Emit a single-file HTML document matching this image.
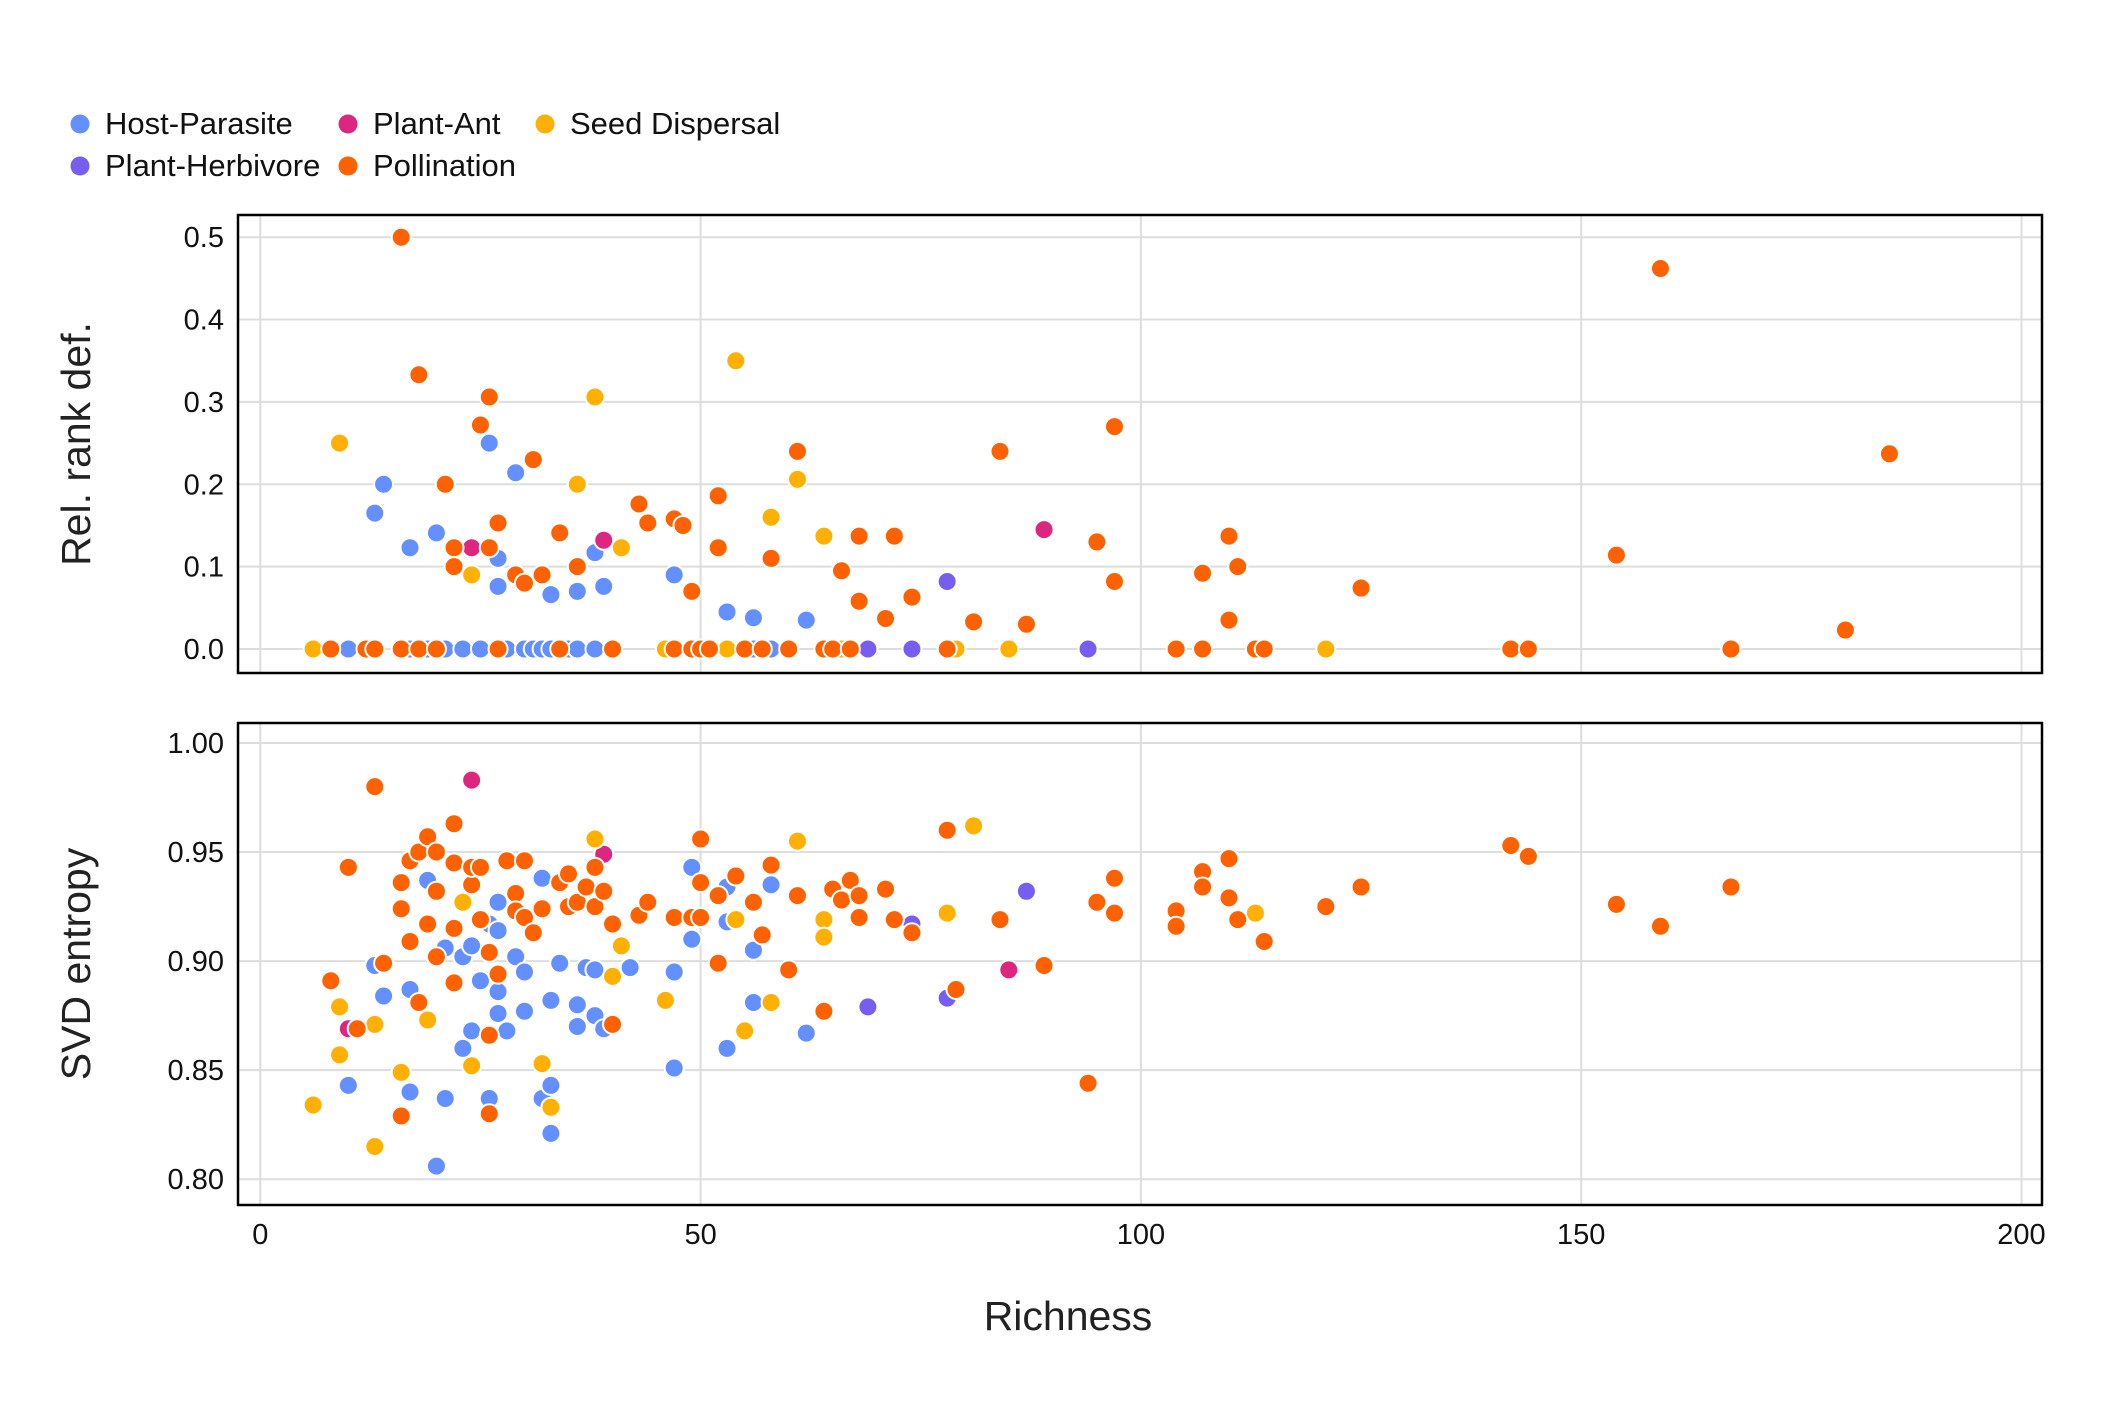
<!DOCTYPE html>
<html><head><meta charset="utf-8"><style>
body{margin:0;background:#fff}
svg{display:block;font-family:"Liberation Sans",sans-serif}
</style></head><body>
<svg id="c" width="2126" height="1417" viewBox="0 0 2126 1417">
<g id="legend"></g>
<g id="grid"></g><g id="pts"></g><g id="axes"></g>
</svg>
<script>
const groupNames=["Host-Parasite","Plant-Ant","Seed Dispersal","Plant-Herbivore","Pollination"];
const groupCodes=["H","A","S","V","P"];
const colors={H:"#648fff",A:"#dc267f",S:"#ffb000",V:"#785ef0",P:"#fe6100"};
const xTicks=[0,50,100,150,200];
const topTicks=[0,0.1,0.2,0.3,0.4,0.5];
const topTickLabels=["0.0","0.1","0.2","0.3","0.4","0.5"];
const botTicks=[0.80,0.85,0.90,0.95,1.00];
const botTickLabels=["0.80","0.85","0.90","0.95","1.00"];
// top panel: relative rank deficiency
const topX=[16,18,9,13,14,17,20,21,22,22,24,24,25,26,26,26,27,27,27,29,29,30,31,32,33,34,36,36,36,38,38,39,39,41,43,44,47,47,48,49,52,52,53,54,58,58,56,61,61,62,64,66,68,68,71,72,74,78,81,84,87,89,95,97,97,107,110,110,111,125,154,159,180,185,
6,8,10,12,13,16,18,13,17,19,21,23,25,27,28,30,31,32,33,35,36,38,20,27,34,40,46,47,47,49,49,50,51,53,56,58,53,55,57,60,64,65,67,66,69,74,78,79,85,94,104,107,113,114,121,142,144,167];
const topY=[.5,.333,.25,.165,.2,.123,.141,.2,.123,.1,.123,.09,.272,.306,.25,.123,.153,.11,.076,.214,.09,.08,.23,.09,.066,.141,.2,.1,.07,.306,.117,.132,.076,.123,.176,.153,.158,.09,.15,.07,.186,.123,.045,.35,.16,.11,.038,.24,.206,.035,.137,.095,.137,.058,.037,.137,.063,.082,.033,.24,.03,.145,.13,.27,.082,.092,.137,.035,.1,.074,.114,.462,.023,.237,
0,0,0,0,0,0,0,0,0,0,0,0,0,0,0,0,0,0,0,0,0,0,0,0,0,0,0,0,0,0,0,0,0,0,0,0,0,0,0,0,0,0,0,0,0,0,0,0,0,0,0,0,0,0,0,0,0,0];
const topG="PPSHHHHPPPASPPHPPHHHPPPPHPSPHSHAHSPPPHPPPPHSSPHPSHSPPPPPPVPPPAPPPPPPPPPPPP"+"SPHPPPPHHHHHHHHHHHHHHHPPPPSPHHPPPHHHSPPPPPPSVVPSSVPPPPSPPP";
// bottom panel: SVD entropy
const botX=[6,8,9,9,10,10,10,11,13,13,13,13,14,14,16,16,16,16,17,17,17,17,19,18,18,19,19,19,20,20,20,20,21,21,22,22,22,22,23,23,23,24,24,24,24,24,24,25,25,25,26,26,26,26,26,27,27,27,27,27,28,28,29,29,29,30,30,30,30,31,32,32,32,32,33,33,33,33,34,34,35,35,36,36,36,37,37,38,38,38,38,38,39,39,39,40,40,40,41,42,43,44,46,47,47,47,49,49,49,50,50,50,52,52,53,53,53,54,54,55,56,56,56,57,58,58,58,60,61,61,62,64,64,64,65,66,67,68,68,69,71,72,74,74,78,78,78,79,81,84,85,87,89,94,95,97,97,104,104,107,107,110,110,111,113,114,121,125,142,144,154,159,167,180,185];
const botY=[.834,.891,.879,.857,.869,.843,.943,.869,.871,.815,.898,.98,.884,.899,.829,.849,.924,.936,.84,.887,.909,.946,.873,.95,.881,.937,.917,.957,.806,.95,.902,.932,.837,.906,.963,.945,.915,.89,.86,.902,.927,.983,.868,.907,.852,.935,.943,.943,.891,.919,.837,.83,.866,.917,.904,.876,.886,.927,.914,.894,.946,.868,.931,.902,.923,.946,.895,.877,.92,.913,.938,.853,.837,.924,.882,.843,.821,.833,.936,.899,.94,.925,.88,.87,.927,.934,.897,.956,.943,.925,.896,.875,.949,.932,.869,.871,.917,.893,.907,.897,.921,.927,.882,.92,.895,.851,.92,.943,.91,.956,.936,.92,.899,.93,.934,.918,.86,.939,.919,.868,.927,.905,.881,.912,.881,.935,.944,.896,.93,.955,.867,.877,.919,.911,.933,.928,.937,.92,.93,.879,.933,.919,.917,.913,.96,.883,.922,.887,.962,.919,.896,.932,.898,.844,.927,.938,.922,.923,.916,.941,.934,.947,.929,.919,.922,.909,.925,.934,.953,.948,.926,.916,.934,.944,.933];
const botG="SPSSAHPPSSHPHPPSPPHHPPSPPHPPHPPPHHPPPPHHSAHHSPPPHPHPPHPHHHHPPHPHPPHHPPHSHPHHHSPHPPHHPPHSPPHHAPHPPSSHPPSPHHPHHPPPPPHHHPSSPHHPSHPPPSHPSSPPPPPVPPVPPVSPSPAVPPPPPPPPPPPPSPPPPPPPP";

const NS="http://www.w3.org/2000/svg";
function mk(tag,attrs,parent){const e=document.createElementNS(NS,tag);for(const k in attrs)e.setAttribute(k,attrs[k]);parent.appendChild(e);return e;}
const L=238,R=2042;
const xS=v=>260.3+v*8.806;
const panels=[
 {top:215,bot:673,y:v=>649-v*823.6,ticks:topTicks,labels:topTickLabels,X:topX,Y:topY,G:topG,title:"Rel. rank def.",name:"rank-deficiency"},
 {top:723,bot:1205,y:v=>743+(1-v)*2181,ticks:botTicks,labels:botTickLabels,X:botX,Y:botY,G:botG,title:"SVD entropy",name:"svd-entropy"}];
const grid=document.getElementById('grid'),pts=document.getElementById('pts'),axes=document.getElementById('axes');
panels.forEach(p=>{
  xTicks.forEach(t=>{const l=mk('line',{x1:xS(t),x2:xS(t),y1:p.top,y2:p.bot,stroke:'#dddddd','stroke-width':2},grid);
    
    });
  p.ticks.forEach((t,i)=>{const l=mk('line',{x1:L,x2:R,y1:p.y(t),y2:p.y(t),stroke:'#dddddd','stroke-width':2},grid);
    
    
    const tx=mk('text',{x:224,y:p.y(t)+10,'text-anchor':'end','font-size':29,fill:'#111'},axes);tx.textContent=p.labels[i];
    
    });
  const order=["H","A","V","S","P"];
  order.forEach(g=>{for(let i=0;i<p.X.length;i++){if(p.G[i]!==g)continue;
    const c=mk('circle',{cx:xS(p.X[i]),cy:p.y(p.Y[i]),r:9.5,fill:colors[g],stroke:'#fff','stroke-width':2},pts);
    
    }});
  const b=mk('rect',{x:L,y:p.top,width:R-L,height:p.bot-p.top,fill:'none',stroke:'#000','stroke-width':2.5},axes);
  
  
  const cy=(p.top+p.bot)/2;
  const tt=mk('text',{x:0,y:0,transform:`translate(90,${cy}) rotate(-90)`,'text-anchor':'middle','font-size':41,fill:'#222'},axes);tt.textContent=p.title;
  
  
});
xTicks.forEach(t=>{const tx=mk('text',{x:xS(t),y:1244,'text-anchor':'middle','font-size':29,fill:'#111'},axes);tx.textContent=t;
  
  });
const xt=mk('text',{x:1068,y:1330,'text-anchor':'middle','font-size':41,fill:'#222'},axes);xt.textContent="Richness";


const lg=document.getElementById('legend');
const lpos=[[80,124],[348,124],[545,124],[80,166],[348,166]];
groupNames.forEach((n,i)=>{const g=mk('g',{},lg);
  
  
  mk('circle',{cx:lpos[i][0],cy:lpos[i][1],r:9.5,fill:colors[groupCodes[i]]},g);
  const t=mk('text',{x:lpos[i][0]+25,y:lpos[i][1]+10,'font-size':31,fill:'#111'},g);t.textContent=n;});
</script>
</body></html>
